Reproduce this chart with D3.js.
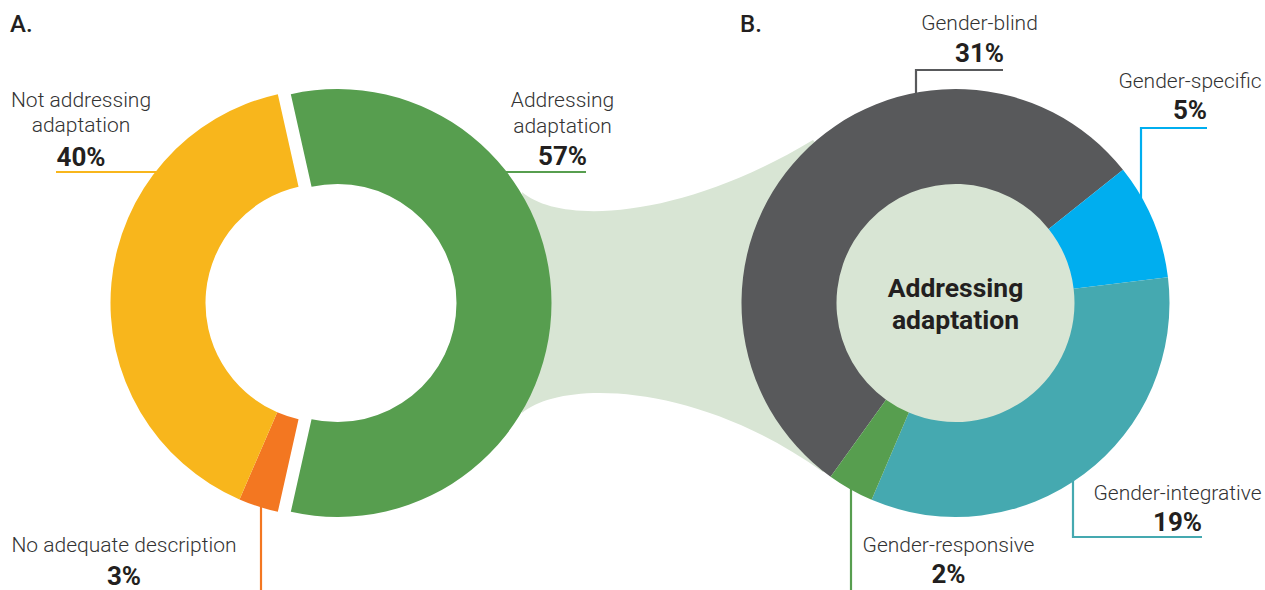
<!DOCTYPE html>
<html>
<head>
<meta charset="utf-8">
<script src="https://cdn.jsdelivr.net/npm/d3@7"></script>
<style>
  body { margin: 0; background: #fff; }
  svg { display: block; font-family: Roboto, "Noto Sans", sans-serif; }
  .lbl { font-size: 21px; font-weight: 300; fill: #333; }
  .pct { font-size: 26px; font-weight: 700; fill: #231f20; }
  .head { font-size: 24px; font-weight: 500; fill: #231f20; }
</style>
</head>
<body>
<svg id="chart" width="1265" height="590"></svg>
<script>
// ---- data ----
const catsA = ["Addressing adaptation", "No adequate description", "Not addressing adaptation"];
const valsA = [57, 3, 40];
const colorsA = ["#579e4f", "#f37721", "#f8b61c"];

const catsB = ["Gender-blind", "Gender-specific", "Gender-integrative", "Gender-responsive"];
const valsB = [31, 5, 19, 2];
const colorsB = ["#58595b", "#00aeef", "#45a9b0", "#579e4f"];

const centerText = ["Addressing", "adaptation"];

// ---- layout ----
const svg = d3.select("#chart");
const R = 214, r = 119;
const A = { x: 331, y: 303 }, B = { x: 955.5, y: 303 };
const explode = 6.5;
const rad = deg => deg * Math.PI / 180;
const light = "#d8e5d4";

const arc = d3.arc().innerRadius(r).outerRadius(R);

// slice angles
const addAngle = valsA[0] / d3.sum(valsA) * 360;
const pieA = d3.pie().sort(null).value(d => d)
  .startAngle(rad(90 - addAngle / 2)).endAngle(rad(90 - addAngle / 2 + 360));
const startB = 51.5 - valsB[0] / d3.sum(valsB) * 360;
const pieB = d3.pie().sort(null).value(d => d)
  .startAngle(rad(startB)).endAngle(rad(startB + 360));

// leader lines first (they sit behind the rings)
const lines = svg.append("g").attr("fill", "none").attr("stroke-width", 2.2);
function leader(pts, color) {
  lines.append("path").attr("d", d3.line()(pts)).attr("stroke", color);
}
leader([[56, 172], [200, 172]], colorsA[2]);
leader([[480, 172], [586, 172]], colorsA[0]);
leader([[261, 470], [261, 590]], colorsA[1]);
leader([[1003, 70], [916, 70], [916, 130]], colorsB[0]);
leader([[1207, 128], [1141, 128], [1141, 230]], colorsB[1]);
leader([[1073, 440], [1073, 537], [1202, 537]], colorsB[2]);
leader([[851, 450], [851, 590]], colorsB[3]);

// connector band between the two donuts
const ax = A.x + explode;
const band = d3.path();
band.moveTo(522, 192);
band.bezierCurveTo(560, 225, 680, 220, 813, 140);
band.lineTo(B.x, B.y);
band.lineTo(823, 472);
band.bezierCurveTo(695, 380, 560, 380, 522, 413);
band.lineTo(ax + (r + R) / 2 + 30, A.y);
band.closePath();
svg.append("path").attr("d", band.toString()).attr("fill", light);

// donut A
const gA = svg.append("g").attr("transform", `translate(${A.x},${A.y})`);
gA.selectAll("path").data(pieA(valsA)).join("path")
  .attr("transform", (d, i) => `translate(${i === 0 ? explode : -explode},0)`)
  .attr("d", arc)
  .attr("fill", (d, i) => colorsA[i]);

// donut B
const gB = svg.append("g").attr("transform", `translate(${B.x},${B.y})`);
gB.append("circle").attr("r", r + 1).attr("fill", light);
gB.selectAll("path.s").data(pieB(valsB)).join("path")
  .attr("class", "s")
  .attr("d", arc)
  .attr("fill", (d, i) => colorsB[i]);
gB.append("text").attr("text-anchor", "middle")
  .style("font-size", "26.5px").style("font-weight", 700).attr("fill", "#231f20")
  .selectAll("tspan").data(centerText).join("tspan")
  .attr("x", 0).attr("y", (d, i) => -6 + i * 32).text(d => d);

// headers
svg.append("text").attr("class", "head").attr("x", 10).attr("y", 32).text("A.");
svg.append("text").attr("class", "head").attr("x", 740).attr("y", 32).text("B.");

// labels
function label(x, ys, textLines, pct) {
  const t = svg.append("g").attr("text-anchor", "middle");
  textLines.forEach((s, i) => t.append("text").attr("class", "lbl").attr("x", x).attr("y", ys[i]).text(s));
  t.append("text").attr("class", "pct").attr("x", x).attr("y", ys[ys.length - 1]).text(pct + "%");
}
label(81, [107, 132, 166], ["Not addressing", "adaptation"], valsA[2]);
label(562.5, [107, 133, 165], ["Addressing", "adaptation"], valsA[0]);
label(124, [552, 585], [catsA[1]], valsA[1]);
label(979.5, [30, 62], [catsB[0]], valsB[0]);
label(1190, [88, 119], [catsB[1]], valsB[1]);
label(1177.5, [500, 531], [catsB[2]], valsB[2]);
label(948.5, [552, 583], [catsB[3]], valsB[3]);
</script>
</body>
</html>
